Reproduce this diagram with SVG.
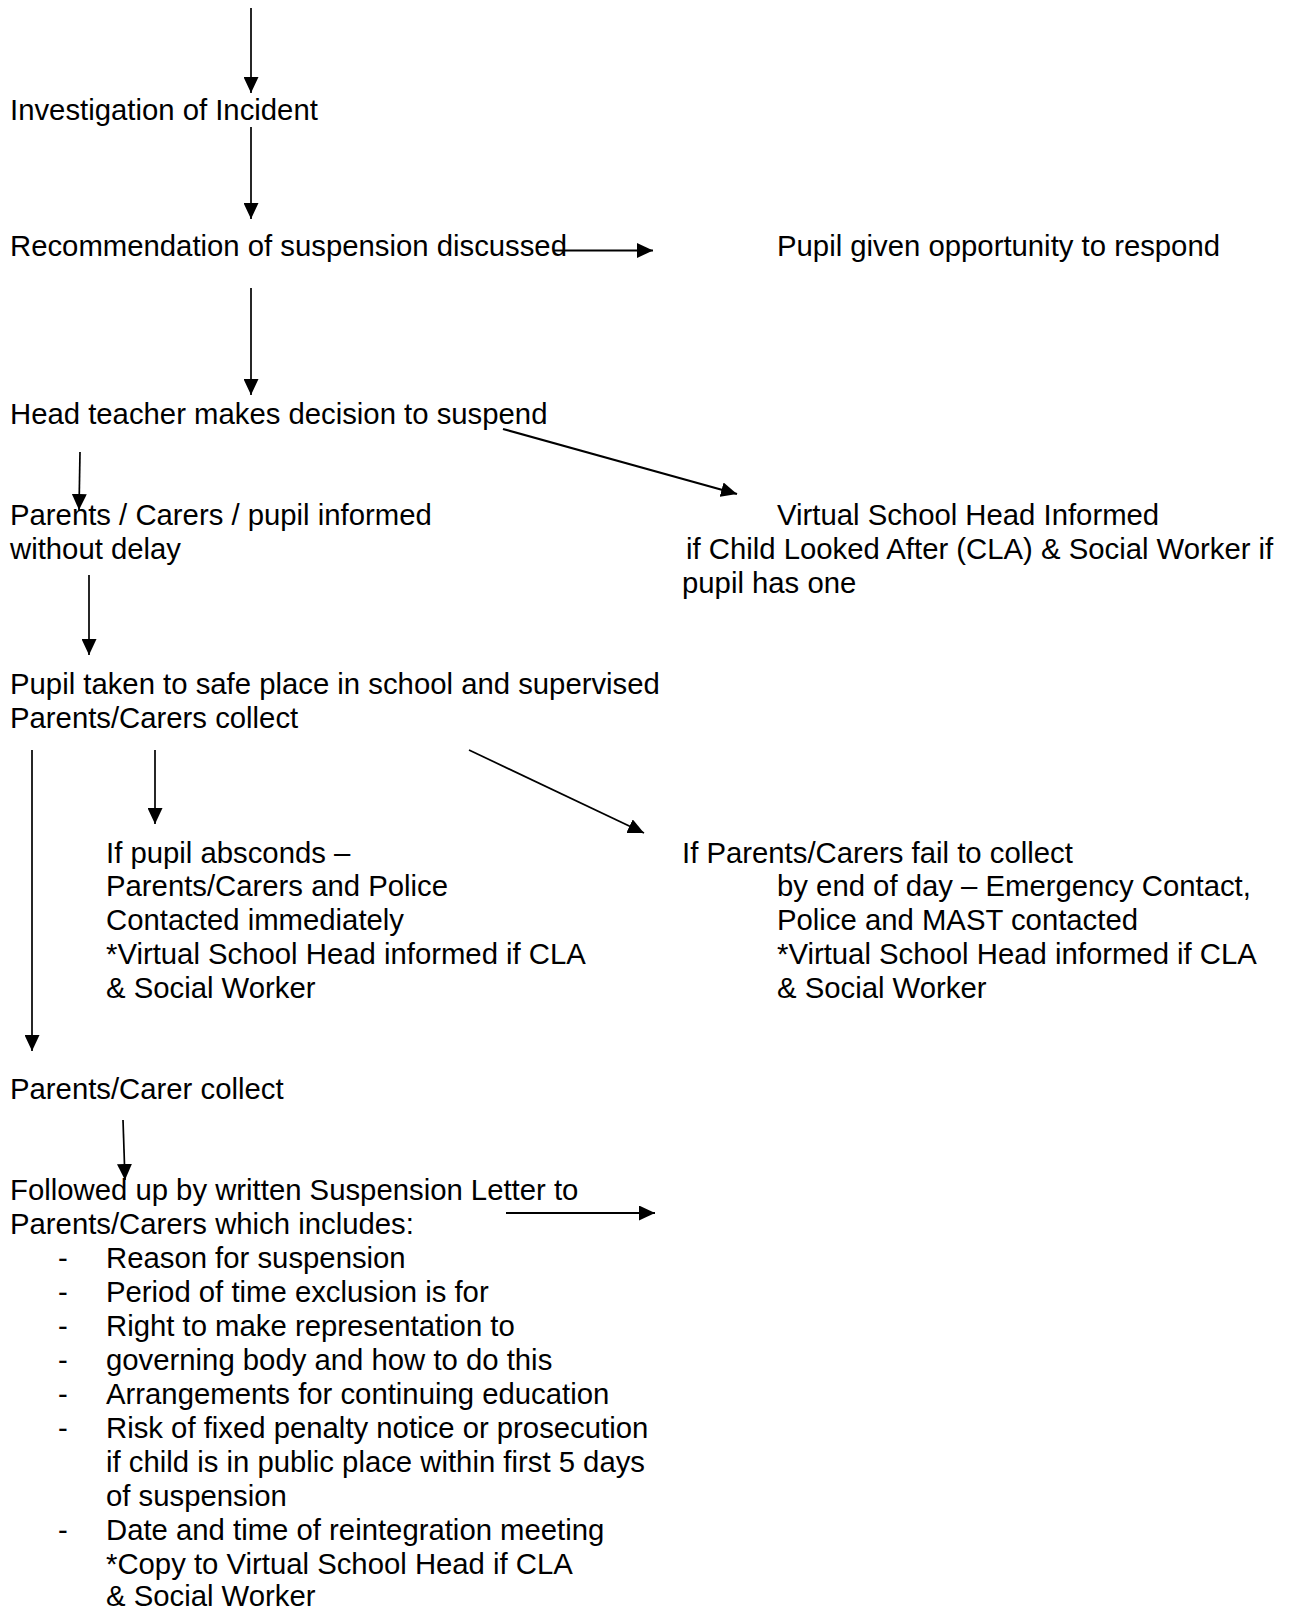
<svg xmlns="http://www.w3.org/2000/svg" width="1291" height="1610" viewBox="0 0 1291 1610">
<style>
text{font-family:"Liberation Sans",Arial,sans-serif;font-size:29.3px;fill:#000}
.c{stroke:#000;stroke-width:1.7;fill:none}
.t{stroke:#000;stroke-width:2.2;fill:none}
</style>
<defs>
<marker id="ahl" viewBox="0 0 16 15" refX="16" refY="7.5" markerWidth="16" markerHeight="15" markerUnits="userSpaceOnUse" orient="auto">
<path d="M0,0 L16,7.5 L0,15 z" fill="#000"/>
</marker>
</defs>
<g id="connectors">
<line class="c" x1="251" y1="8" x2="251" y2="93" marker-end="url(#ahl)"/>
<line class="c" x1="251" y1="127" x2="251" y2="219" marker-end="url(#ahl)"/>
<line class="t" x1="553" y1="250.5" x2="653" y2="250.5" marker-end="url(#ahl)"/>
<line class="c" x1="251" y1="288" x2="251" y2="395" marker-end="url(#ahl)"/>
<line class="t" x1="503" y1="429" x2="737" y2="494" marker-end="url(#ahl)"/>
<line class="c" x1="80" y1="452" x2="79" y2="510" marker-end="url(#ahl)"/>
<line class="c" x1="89" y1="575" x2="89" y2="655" marker-end="url(#ahl)"/>
<line class="c" x1="32" y1="750" x2="32" y2="1051" marker-end="url(#ahl)"/>
<line class="c" x1="155" y1="750" x2="155" y2="824" marker-end="url(#ahl)"/>
<line class="c" x1="469" y1="750" x2="644" y2="833" marker-end="url(#ahl)"/>
<line class="c" x1="123" y1="1120" x2="125" y2="1180" marker-end="url(#ahl)"/>
<line class="t" x1="506" y1="1213" x2="655" y2="1213" marker-end="url(#ahl)"/>
</g>
<g id="n-investigation"><text x="10" y="120">Investigation of Incident</text></g>
<g id="n-recommendation"><text x="10" y="256">Recommendation of suspension discussed</text></g>
<g id="n-respond"><text x="777" y="256">Pupil given opportunity to respond</text></g>
<g id="n-headteacher"><text x="10" y="424">Head teacher makes decision to suspend</text></g>
<g id="n-parents-informed"><text x="10" y="525">Parents / Carers / pupil informed</text><text x="10" y="559">without delay</text></g>
<g id="n-vsh"><text x="777" y="525">Virtual School Head Informed</text><text x="686" y="559">if Child Looked After (CLA) &amp; Social Worker if</text><text x="682" y="593">pupil has one</text></g>
<g id="n-safe-place"><text x="10" y="694">Pupil taken to safe place in school and supervised</text><text x="10" y="728">Parents/Carers collect</text></g>
<g id="n-absconds"><text x="106" y="863">If pupil absconds –</text><text x="106" y="896">Parents/Carers and Police</text><text x="106" y="930">Contacted immediately</text><text x="106" y="964">*Virtual School Head informed if CLA</text><text x="106" y="998">&amp; Social Worker</text></g>
<g id="n-fail-collect"><text x="682" y="863">If Parents/Carers fail to collect</text><text x="777" y="896">by end of day – Emergency Contact,</text><text x="777" y="930">Police and MAST contacted</text><text x="777" y="964">*Virtual School Head informed if CLA</text><text x="777" y="998">&amp; Social Worker</text></g>
<g id="n-carer-collect"><text x="10" y="1099">Parents/Carer collect</text></g>
<g id="n-letter"><text x="10" y="1200">Followed up by written Suspension Letter to</text><text x="10" y="1234">Parents/Carers which includes:</text>
<text x="58" y="1268">-</text><text x="106" y="1268">Reason for suspension</text>
<text x="58" y="1302">-</text><text x="106" y="1302">Period of time exclusion is for</text>
<text x="58" y="1336">-</text><text x="106" y="1336">Right to make representation to</text>
<text x="58" y="1370">-</text><text x="106" y="1370">governing body and how to do this</text>
<text x="58" y="1404">-</text><text x="106" y="1404">Arrangements for continuing education</text>
<text x="58" y="1438">-</text><text x="106" y="1438">Risk of fixed penalty notice or prosecution</text>
<text x="106" y="1472">if child is in public place within first 5 days</text>
<text x="106" y="1506">of suspension</text>
<text x="58" y="1540">-</text><text x="106" y="1540">Date and time of reintegration meeting</text>
<text x="106" y="1574">*Copy to Virtual School Head if CLA</text>
<text x="106" y="1606">&amp; Social Worker</text></g>
</svg>
